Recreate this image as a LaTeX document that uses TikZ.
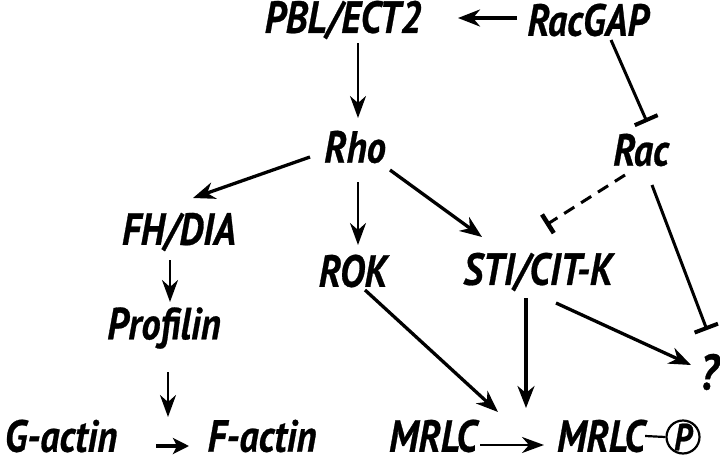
\documentclass[tikz,border=0pt]{standalone}
\usepackage{fontspec}
\setmainfont{PT Sans}[FakeStretch=0.85,BoldItalicFeatures={FakeBold=0.6}]
\usetikzlibrary{arrows.meta}
\begin{document}
\begin{tikzpicture}[x=1pt,y=-1pt,
  lbl/.style={inner sep=0pt,font=\fontsize{45}{45}\selectfont\bfseries\itshape},
  arr/.style={line width=3.3pt,-{Stealth[length=22pt,width=17pt,inset=7pt]}},
  thinarr/.style={line width=2.5pt,-{Stealth[length=22pt,width=16pt,inset=7pt]}},
  inh/.style={line width=3pt,-{Bar[width=25pt,line width=4pt]}},
  dinh/.style={line width=3pt,dash pattern=on 12pt off 8pt,-{Bar[width=22pt,line width=4.5pt]}}]
\useasboundingbox (0,0) rectangle (720,463);
\node[lbl] (pbl) at (343,20) {PBL/ECT2};
\node[lbl] (racgap) at (588,20) {RacGAP};
\node[lbl] (rho) at (355,147) {Rho};
\node[lbl] (rac) at (641,150) {Rac};
\node[lbl] (fh) at (179,232) {FH/DIA};
\node[lbl] (rok) at (353,271) {ROK};
\node[lbl] (sti) at (538,272) {STI/CIT-K};
\node[lbl] (prof) at (164,328) {Profilin};
\node[lbl] (gact) at (61,436) {G-actin};
\node[lbl] (fact) at (262,436) {F-actin};
\node[lbl] (mrlc) at (433,436) {MRLC};
\node[lbl] (mrlcp) at (601,436) {MRLC};
\node[draw,circle,line width=2.2pt,minimum size=33pt,inner sep=0pt,
  font=\fontsize{38}{38}\selectfont\bfseries\itshape] (pc) at (683,437) {P};
\node[lbl,font=\fontsize{50}{50}\selectfont\bfseries\itshape] (q) at (709,372) {?};
% connectors
\draw[arr] ([shift={(-71,-2)}]racgap.center) -- ([shift={(115,-2)}]pbl.center);
\draw[thinarr] ([shift={(15,23)}]pbl.center) -- ([shift={(3,-29)}]rho.center);
\draw[inh] ([shift={(23,20)}]racgap.center) -- ([shift={(6,-28)}]rac.center);
\draw[arr] ([shift={(-45,10)}]rho.center) -- ([shift={(14,-34)}]fh.center);
\draw[thinarr] ([shift={(3,35)}]rho.center) -- ([shift={(5,-26)}]rok.center);
\draw[arr] ([shift={(35,23)}]rho.center) -- ([shift={(-56,-35)}]sti.center);
\draw[dinh] ([shift={(-16,25)}]rac.center) -- ([shift={(8,-47)}]sti.center);
\draw[inh] ([shift={(11,35)}]rac.center) -- ([shift={(-2,-42)}]q.center);
\draw[thinarr] ([shift={(-9,28)}]fh.center) -- ([shift={(6,-26)}]prof.center);
\draw[thinarr] ([shift={(4,44)}]prof.center) -- ([shift={(-94,-19)}]fact.center);
\draw[line width=3.3pt,-{Stealth[length=16pt,width=16pt,inset=4pt]}] ([shift={(95,10)}]gact.center) -- ([shift={(-73,10)}]fact.center);
\draw[arr] ([shift={(12,19)}]rok.center) -- ([shift={(-103,-24)}]mrlcp.center);
\draw[arr] ([shift={(-12,26)}]sti.center) -- ([shift={(-75,-28)}]mrlcp.center);
\draw[arr] ([shift={(18,31)}]sti.center) -- ([shift={(-18,-7)}]q.center);
\draw[thinarr] ([shift={(47,9)}]mrlc.center) -- ([shift={(-57,9)}]mrlcp.center);
\draw[line width=2.2pt] (mrlcp.east) -- (pc.west);
\end{tikzpicture}
\end{document}
